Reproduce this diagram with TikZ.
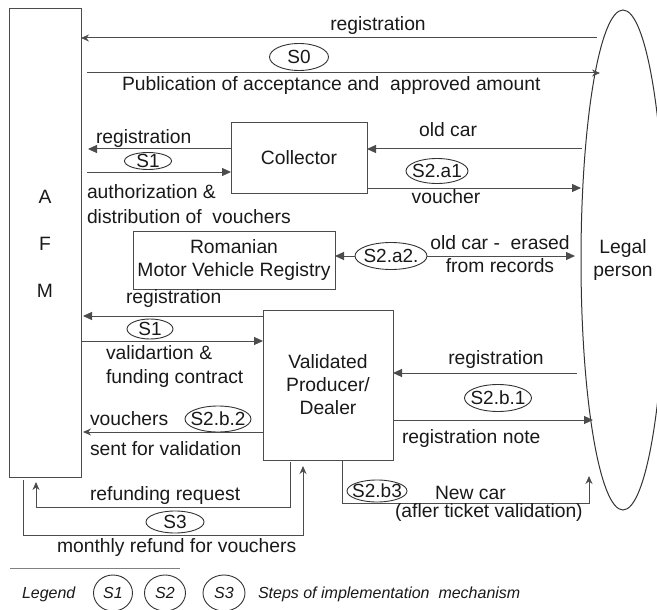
\documentclass[tikz,border=0pt]{standalone}
\usepackage{fontspec}
\setmainfont{Liberation Sans}
\usetikzlibrary{arrows.meta,shapes.geometric}
\begin{document}
\begin{tikzpicture}[x=1pt,y=-1pt,
  every node/.style={inner sep=0pt, outer sep=0pt, text=black!90},
  lbl/.style={font=\fontsize{19.3}{23}\selectfont},
  box/.style={draw=black!70, line width=1pt, rectangle, align=center, font=\fontsize{19.3}{23}\selectfont},
  stp/.style={draw=black!80, line width=0.9pt, ellipse, label={[font=\fontsize{19}{23}\selectfont]center:#1}},
  leg/.style={draw=black!80, line width=0.9pt, ellipse, label={[font=\fontsize{16}{19}\selectfont\itshape]center:#1}},
  con/.style={draw=black!70, line width=1pt},
  tri/.style={con, -{Triangle[length=9pt,width=8pt]}},
  stl/.style={con, -{Stealth[length=8pt,width=7pt]}},
]
\useasboundingbox (0,0) rectangle (657,610);

% main boxes
\node[box, minimum width=72, minimum height=468] (afm) at (45,243) {};
\node[lbl, anchor=base] (la) at (45,203) {A};
\node[lbl, anchor=base] (lf) at (45,250) {F};
\node[lbl, anchor=base] (lm) at (45,297) {M};
\node[box, minimum width=136, minimum height=70] (collector) at (299,158) {Collector};
\node[box, minimum width=202, minimum height=58] (registry) at (234,260) {Romanian\\Motor Vehicle Registry};
\node[box, minimum width=130, minimum height=150] (producer) at (328,385) {Validated\\Producer/\\Dealer};
\node[draw=black!80, line width=1pt, ellipse, minimum width=84, minimum height=500, align=center,
      font=\fontsize{19.3}{23}\selectfont] (legal) at (623,260) {Legal\\person};

% step ellipses
\node[stp=S0, minimum width=59, minimum height=27] (s0) at (299,57) {};
\node[stp=S1, minimum width=47, minimum height=17] (s1a) at (148,161) {};
\node[stp=S2.a1, minimum width=62, minimum height=25] (s2a1) at (437,171) {};
\node[stp=S2.a2., minimum width=72, minimum height=27] (s2a2) at (391,256) {};
\node[stp=S1, minimum width=46, minimum height=20] (s1b) at (150,329) {};
\node[stp=S2.b.1, minimum width=67, minimum height=27] (s2b1) at (498,398) {};
\node[stp=S2.b.2, minimum width=66, minimum height=26] (s2b2) at (218,419) {};
\node[stp=S2.b3, minimum width=60, minimum height=22] (s2b3) at (377,491) {};
\node[stp=S3, minimum width=58, minimum height=22] (s3) at (175,522) {};

% top connectors
\draw[stl] (597,38) -- (afm.east |- 0,38);
\node[lbl, anchor=base] (t1) at (378,31) {registration};
\draw[stl] (87,73) -- (600,73);
\node[lbl, anchor=base west] (t2) at (122,91) {Publication of acceptance and\ \ approved amount};

% collector connectors
\draw[tri] (collector.west |- 0,149) -- (88,149);
\node[lbl, anchor=base west] (t3) at (96,143) {registration};
\draw[tri] (87,172) -- (collector.west |- 0,172);
\node[lbl, anchor=base west] (t4a) at (87,198) {authorization \&};
\node[lbl, anchor=base west] (t4b) at (87,223) {distribution of\ \ vouchers};
\draw[tri] (582,149) -- (collector.east |- 0,149);
\node[lbl, anchor=base] (t5) at (448,137) {old car};
\draw[tri] (collector.east |- 0,188) -- (581,188);
\node[lbl, anchor=base] (t6) at (446,203) {voucher};

% registry connectors
\draw[tri] (s2a2.west) -- (registry.east |- s2a2.west);
\draw[tri] (s2a2.east) -- (575,256);
\node[lbl, anchor=base] (t7a) at (500,249) {old car -\ \ erased};
\node[lbl, anchor=base] (t7b) at (500,272) {from records};

% producer connectors
\draw[tri] (producer.west |- 0,316) -- (83,316);
\node[lbl, anchor=base west] (t8) at (126,303) {registration};
\draw[tri] (81,341) -- (producer.west |- 0,341);
\node[lbl, anchor=base west] (t9a) at (106,359) {validartion \&};
\node[lbl, anchor=base west] (t9b) at (106,383) {funding contract};
\draw[tri] (577,373) -- (producer.east |- 0,373);
\node[lbl, anchor=base] (t10) at (496,364) {registration};
\draw[tri] (producer.east |- 0,420) -- (593,420);
\node[lbl, anchor=base west] (t11) at (402,443) {registration note};
\draw[stl] (producer.west |- 0,432) -- (83,432);
\node[lbl, anchor=base west] (t12a) at (90,425) {vouchers};
\node[lbl, anchor=base west] (t12b) at (90,455) {sent for validation};

% bottom connectors
\draw[stl] (342,461) -- (342,503) -- (589,503) -- (589,476);
\node[lbl, anchor=base west] (t13a) at (435,499) {New car};
\node[lbl, anchor=base west] (t13b) at (395,517) {(afler ticket validation)};
\draw[stl] (290,462) -- (290,507) -- (36,507) -- (36,482);
\node[lbl, anchor=base west] (t14) at (90,500) {refunding request};
\draw[stl] (23,480) -- (23,535) -- (303,535) -- (303,466);
\node[lbl, anchor=base west] (t15) at (57,552) {monthly refund for vouchers};

% legend
\draw[draw=black!50, line width=0.8pt] (10,568) -- (180,568);
\node[font=\fontsize{16}{19}\selectfont\itshape, anchor=base west] (lg) at (22,598) {Legend};
\node[leg=S1, minimum width=39, minimum height=36] (c1) at (113,593) {};
\node[leg=S2, minimum width=41, minimum height=36] (c2) at (165,593) {};
\node[leg=S3, minimum width=42, minimum height=36] (c3) at (224,593) {};
\node[font=\fontsize{16}{19}\selectfont\itshape, anchor=base west] (lg2) at (258,598) {Steps of implementation\ \ mechanism};
\end{tikzpicture}
\end{document}
